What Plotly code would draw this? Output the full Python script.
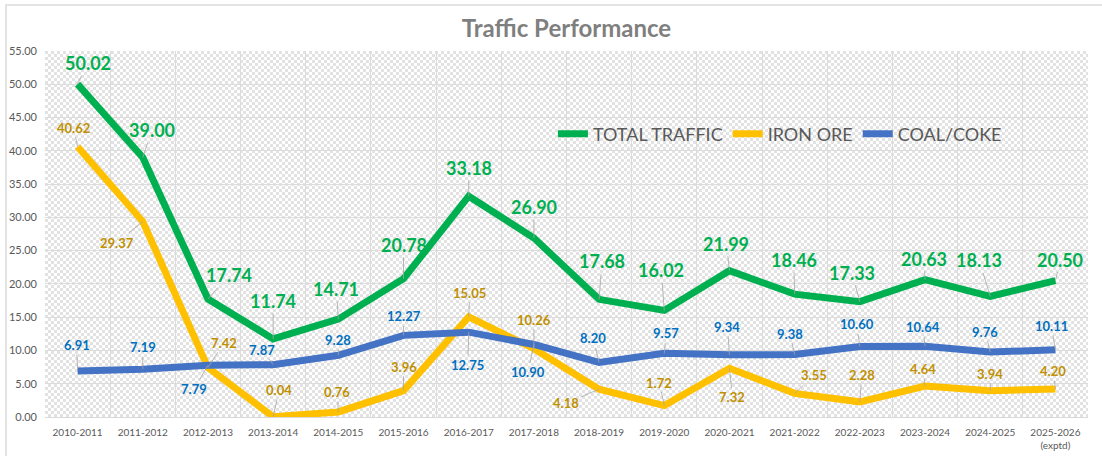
import base64
import plotly.graph_objects as go

# Data
categories = ["2010-2011", "2011-2012", "2012-2013", "2013-2014", "2014-2015",
              "2015-2016", "2016-2017", "2017-2018", "2018-2019", "2019-2020",
              "2020-2021", "2021-2022", "2022-2023", "2023-2024", "2024-2025",
              "2025-2026"]
tick_labels = categories[:-1] + ["2025-2026<br>(exptd)"]
total_traffic = [50.02, 39.00, 17.74, 11.74, 14.71, 20.78, 33.18, 26.90,
                 17.68, 16.02, 21.99, 18.46, 17.33, 20.63, 18.13, 20.50]
iron_ore = [40.62, 29.37, 7.42, 0.04, 0.76, 3.96, 15.05, 10.26,
            4.18, 1.72, 7.32, 3.55, 2.28, 4.64, 3.94, 4.20]
coal_coke = [6.91, 7.19, 7.79, 7.87, 9.28, 12.27, 12.75, 10.90,
             8.20, 9.57, 9.34, 9.38, 10.60, 10.64, 9.76, 10.11]

# Label placement (pixel offsets of each data label from its point)
total_offsets = [(10, -21), (9, -27), (21, -24), (0, -38), (-2, -30), (0, -34),
                 (0, -28), (0, -31), (3, -38), (-3, -40), (-3, -27), (-1, -34),
                 (-8, -29), (-1, -21), (-11, -36), (5, -21)]
iron_offsets = [(-4, -19), (-26, 21), (16, -25), (6, -27), (-1, -20), (0, -24),
                (1, -24), (0, -29), (-33, 14), (-5, -23), (3, 29), (19, -18),
                (2, -27), (-2, -17), (0, -17), (-2, -18)]
coal_offsets = [(-1, -26), (0, -22), (-14, 24), (-11, -15), (0, -15), (0, -19),
                (-1, 33), (-6, 28), (-6, -24), (2, -20), (-2, -28), (-5, -21),
                (-3, -22), (-2, -19), (-5, -20), (-4, -24)]

FONT = "Lato"
W, H = 1102, 456
ML, MR, MT, MB = 45, 14, 51, 39
PW, PH = W - ML - MR, H - MT - MB

series = [
    ("TOTAL TRAFFIC", total_traffic, "#00b050", "#00b050", 18, total_offsets),
    ("IRON ORE", iron_ore, "#ffc000", "#bf9000", 13, iron_offsets),
    ("COAL/COKE", coal_coke, "#4472c4", "#0070c0", 13, coal_offsets),
]

fig = go.Figure()
annotations = []
for name, vals, color, lab_color, lab_size, offs in series:
    fig.add_trace(go.Scatter(
        x=categories, y=vals, name=name, mode="lines",
        line=dict(color=color, width=7),
        hovertemplate="%{x}: %{y:.2f}<extra>" + name + "</extra>",
    ))
    for cat, v, (dx, dy) in zip(categories, vals, offs):
        annotations.append(dict(
            x=cat, y=v, text=f"<b>{v:.2f}</b>", showarrow=True,
            arrowhead=0, arrowwidth=0.8, arrowcolor="#a6a6a6",
            ax=dx, ay=dy, standoff=0,
            font=dict(family=FONT, size=lab_size, color=lab_color),
        ))

# Checker pattern for the plot area background (Excel pattern fill look)
svg = (f'<svg xmlns="http://www.w3.org/2000/svg" width="{PW}" height="{PH}">'
       '<defs><pattern id="p" width="6" height="6" patternUnits="userSpaceOnUse">'
       '<rect width="6" height="6" fill="#ffffff"/>'
       '<rect x="0" y="0" width="3" height="3" fill="#e2e2e2"/>'
       '<rect x="3" y="3" width="3" height="3" fill="#e2e2e2"/>'
       '</pattern></defs>'
       f'<rect width="{PW}" height="{PH}" fill="url(#p)"/></svg>')
bg_src = "data:image/svg+xml;base64," + base64.b64encode(svg.encode()).decode()

fig.update_layout(
    width=W, height=H,
    margin=dict(l=ML, r=MR, t=MT, b=MB),
    paper_bgcolor="white",
    plot_bgcolor="rgba(0,0,0,0)",
    font=dict(family=FONT, color="#595959"),
    title=dict(text="<b>Traffic Performance</b>", x=(ML + PW / 2) / W, xanchor="center",
               y=1 - 29 / H, yanchor="middle",
               font=dict(family=FONT, size=24, color="#7f7f7f")),
    legend=dict(orientation="h", x=0.487, y=(H - MB - 134) / PH, xanchor="left",
                yanchor="middle", bgcolor="rgba(0,0,0,0)",
                font=dict(family=FONT, size=18, color="#595959"),
                itemwidth=30, tracegroupgap=0),
    annotations=annotations,
    images=[dict(source=bg_src, xref="paper", yref="paper", x=0, y=1,
                 sizex=1, sizey=1, sizing="stretch", xanchor="left",
                 yanchor="top", layer="below")],
    shapes=[dict(type="rect", xref="paper", yref="paper",
                 x0=(6 - ML) / PW, x1=(W + 10 - ML) / PW,
                 y0=(H - MB - (H + 10)) / PH, y1=(H - MB - 5) / PH,
                 line=dict(color="#e3e3e3", width=2), fillcolor="rgba(0,0,0,0)",
                 layer="below")],
    showlegend=True,
)

fig.update_xaxes(
    type="category", range=[-0.5, len(categories) - 0.5],
    tickmode="array", tickvals=categories, ticktext=tick_labels,
    tickson="boundaries", ticks="", showgrid=True, gridcolor="#dcdcdc", gridwidth=1,
    showline=True, linecolor="#d9d9d9", linewidth=1,
    tickfont=dict(family=FONT, size=10, color="#595959"),
    ticklabelstandoff=6, automargin=False, fixedrange=True,
)
fig.update_yaxes(
    range=[0, 55], dtick=5, tickformat=".2f",
    showgrid=True, gridcolor="#dcdcdc", gridwidth=1, zeroline=False,
    tickfont=dict(family=FONT, size=11, color="#595959"),
    ticks="", ticklabelstandoff=7, automargin=False, fixedrange=True,
)

# Remove the default page margin so the figure sits at the window origin
fig.write_html("out.html", config={"displayModeBar": False},
               post_script="document.body.style.margin='0';document.body.style.overflow='hidden';")
